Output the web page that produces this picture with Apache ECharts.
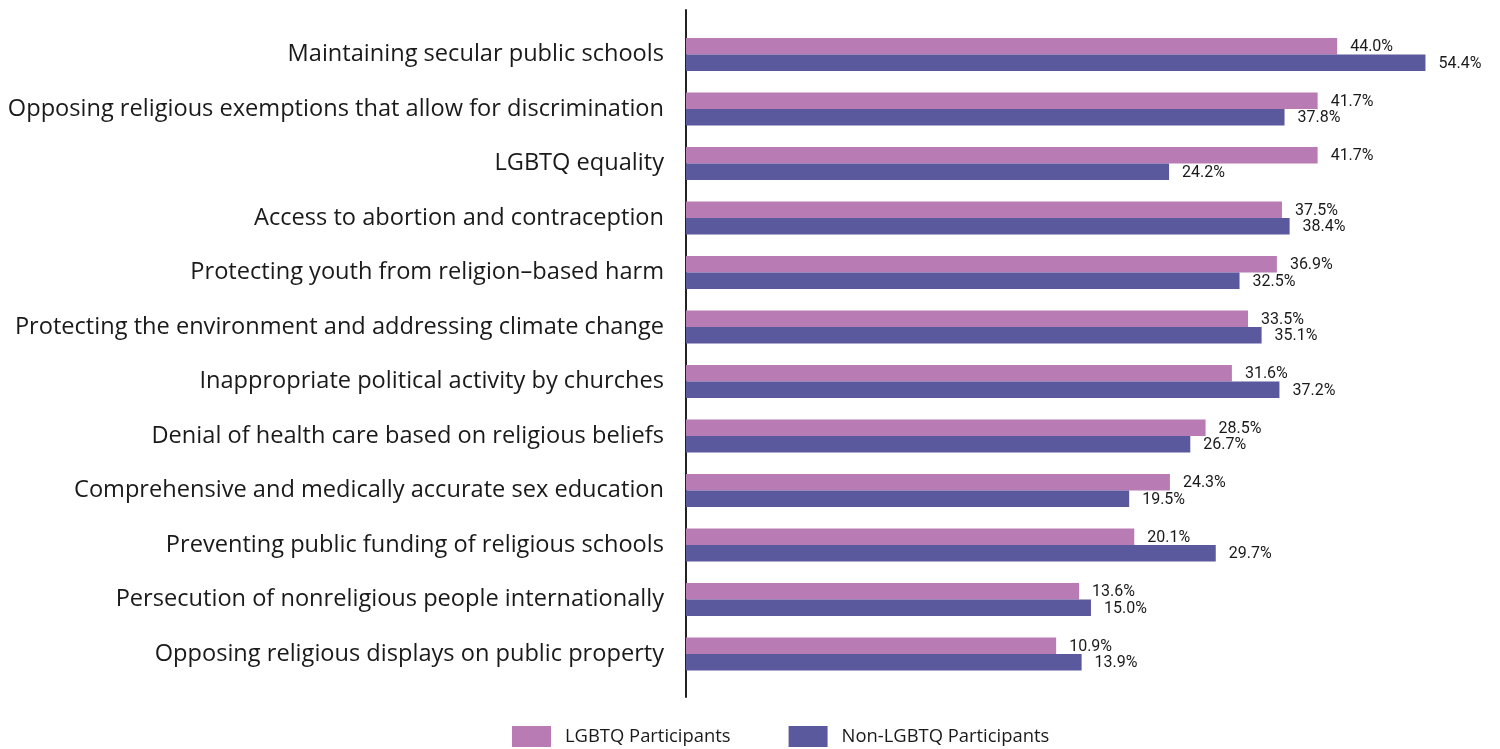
<!DOCTYPE html>
<html>
<head>
<meta charset="utf-8">
<title>Issue priorities: LGBTQ vs Non-LGBTQ participants</title>
<script src="https://cdn.jsdelivr.net/npm/echarts@6/dist/echarts.min.js"></script>
<style>
  html, body { margin: 0; padding: 0; background: #ffffff; }
  #chart { width: 1500px; height: 749px; }
</style>
</head>
<body>
<div id="chart"></div>
<script>
// Issue categories, top to bottom
const categories = [
  'Maintaining secular public schools',
  'Opposing religious exemptions that allow for discrimination',
  'LGBTQ equality',
  'Access to abortion and contraception',
  'Protecting youth from religion\u2013based harm',
  'Protecting the environment and addressing climate change',
  'Inappropriate political activity by churches',
  'Denial of health care based on religious beliefs',
  'Comprehensive and medically accurate sex education',
  'Preventing public funding of religious schools',
  'Persecution of nonreligious people internationally',
  'Opposing religious displays on public property'
];

// Share of participants (%) naming each issue
const lgbtq = [44.0, 41.7, 41.7, 37.5, 36.9, 33.5, 31.6, 28.5, 24.3, 20.1, 13.6, 10.9];
const nonLgbtq = [54.4, 37.8, 24.2, 38.4, 32.5, 35.1, 37.2, 26.7, 19.5, 29.7, 15.0, 13.9];

const seriesNames = ['LGBTQ Participants', 'Non-LGBTQ Participants'];
const colors = ['#b87bb4', '#5b599d'];

// Bars grow from the left edge of the value axis
const AXIS_MIN = -32.7;
const AXIS_MAX = 60;

function barRenderer(side) {
  return function (params, api) {
    const v = api.value(0);
    const idx = api.value(1);
    const end = api.coord([v, idx]);
    const start = api.coord([AXIS_MIN, idx]);
    const band = api.size([0, 1])[1];
    const h = band * 0.302;
    const y = side === 0 ? end[1] - h : end[1];
    return {
      type: 'group',
      children: [
        {
          type: 'rect',
          shape: { x: start[0], y: y, width: end[0] - start[0], height: h },
          style: { fill: colors[side] }
        },
        {
          type: 'text',
          x: end[0] + 13,
          y: y + h / 2 + 1,
          style: {
            text: v.toFixed(1) + '%',
            fontFamily: 'Roboto',
            fontSize: 16,
            fill: '#1a1a1a',
            verticalAlign: 'middle',
            align: 'left'
          }
        }
      ]
    };
  };
}

const chart = echarts.init(document.getElementById('chart'), null, { renderer: 'canvas' });

chart.setOption({
  animation: false,
  backgroundColor: '#ffffff',
  grid: [
    { left: 686, right: 27, top: 27.25, bottom: 67.75 },
    { left: 686, width: 1, top: 10, bottom: 52 }
  ],
  legend: {
    left: 512,
    top: 726,
    padding: 0,
    itemWidth: 39,
    itemHeight: 21,
    itemGap: 58,
    icon: 'rect',
    textStyle: {
      fontFamily: 'Open Sans',
      fontSize: 18.4,
      color: '#1a1a1a',
      padding: [3, 0, 0, 9]
    },
    data: [
      { name: seriesNames[0], itemStyle: { color: colors[0] } },
      { name: seriesNames[1], itemStyle: { color: colors[1] } }
    ]
  },
  xAxis: [
    {
      gridIndex: 0, type: 'value', min: AXIS_MIN, max: AXIS_MAX,
      show: false
    },
    {
      gridIndex: 1, type: 'value', min: 0, max: 1, show: false
    }
  ],
  yAxis: [
    {
      gridIndex: 0,
      type: 'category',
      inverse: true,
      data: categories,
      axisLine: { show: false },
      axisTick: { show: false },
      axisLabel: {
        margin: 22,
        fontFamily: 'Open Sans',
        fontSize: 23.6,
        color: '#1a1a1a'
      }
    },
    {
      gridIndex: 1,
      type: 'value',
      min: 0, max: 1,
      axisLine: { show: true, lineStyle: { color: '#222222', width: 2 } },
      axisTick: { show: false },
      axisLabel: { show: false },
      splitLine: { show: false }
    }
  ],
  series: [
    {
      name: seriesNames[0],
      type: 'custom',
      xAxisIndex: 0, yAxisIndex: 0,
      itemStyle: { color: colors[0] },
      encode: { x: 0, y: 1 },
      data: lgbtq.map((v, i) => [v, i]),
      renderItem: barRenderer(0)
    },
    {
      name: seriesNames[1],
      type: 'custom',
      xAxisIndex: 0, yAxisIndex: 0,
      itemStyle: { color: colors[1] },
      encode: { x: 0, y: 1 },
      data: nonLgbtq.map((v, i) => [v, i]),
      renderItem: barRenderer(1)
    }
  ]
});
</script>
</body>
</html>
